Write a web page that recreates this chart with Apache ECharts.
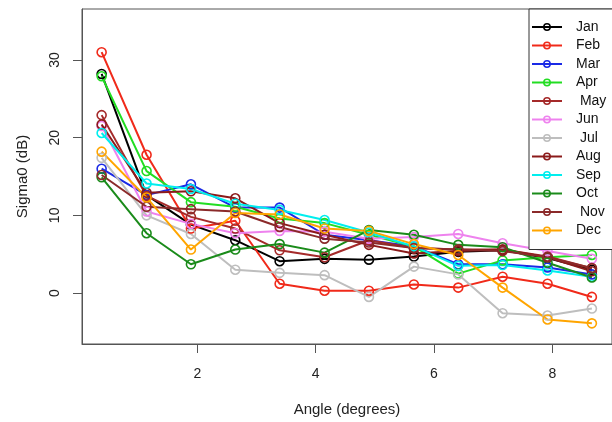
<!DOCTYPE html>
<html>
<head>
<meta charset="utf-8">
<script src="https://cdn.jsdelivr.net/npm/echarts@6/dist/echarts.min.js"></script>
<style>
html,body{margin:0;padding:0;background:#fff;}
#chart{width:612px;height:422px;}
</style>
</head>
<body>
<div id="chart"></div>
<script>
const angles = [0.38, 1.14, 1.89, 2.64, 3.39, 4.15, 4.90, 5.66, 6.41, 7.16, 7.92, 8.67];
const months = ["Jan", "Feb", "Mar", "Apr", " May", "Jun", " Jul", "Aug", "Sep", "Oct", " Nov", "Dec"];
const colors = ["#000000", "#f02a1a", "#1a2ae6", "#22dd22", "#a52a2a", "#ee82ee", "#bebebe", "#8b1a1a", "#00eeee", "#1a8b1a", "#8b2a2a", "#ffa500"];
const jan = [28.2, 12.6, 8.8, 6.8, 4.1, 4.4, 4.3, 4.7, 5.3, 5.5, 4.5, 3.0];
const feb = [31.0, 17.8, 8.3, 9.3, 1.2, 0.3, 0.3, 1.1, 0.7, 2.1, 1.2, -0.5];
const mar = [16.0, 12.6, 14.0, 11.0, 11.0, 7.5, 6.8, 6.0, 3.7, 3.7, 3.3, 2.4];
const apr = [27.9, 15.7, 11.7, 11.1, 9.6, 9.0, 7.5, 6.0, 2.5, 4.2, 4.6, 4.9];
const may = [22.9, 12.5, 9.8, 8.3, 5.5, 4.6, 6.8, 5.8, 5.6, 5.6, 4.7, 3.2];
const jun = [21.5, 10.5, 8.9, 7.7, 8.0, 7.9, 7.0, 7.2, 7.6, 6.4, 5.4, 4.4];
const jul = [17.4, 10.0, 7.6, 3.0, 2.6, 2.3, -0.5, 3.4, 2.4, -2.6, -2.9, -2.0];
const aug = [21.7, 12.9, 13.1, 12.2, 9.0, 7.5, 6.2, 5.1, 5.4, 5.6, 4.6, 2.8];
const sep = [20.6, 14.1, 13.4, 11.5, 10.7, 9.4, 7.8, 6.0, 3.5, 3.6, 2.9, 2.1];
const oct = [14.9, 7.7, 3.7, 5.6, 6.3, 5.2, 8.1, 7.5, 6.2, 5.9, 3.9, 2.0];
const nov = [15.2, 11.1, 10.8, 10.5, 8.5, 7.0, 6.5, 5.8, 5.6, 5.4, 4.6, 3.2];
const dec = [18.2, 12.3, 5.6, 10.3, 10.1, 8.3, 8.0, 6.3, 4.9, 0.7, -3.4, -3.9];
const seriesValues = [jan, feb, mar, apr, may, jun, jul, aug, sep, oct, nov, dec];
const xTicks = [2, 4, 6, 8];
const yTicks = [0, 10, 20, 30];

const font = "'Liberation Sans', Arial, Helvetica, sans-serif";
const axisColor = "#555";

const chart = echarts.init(document.getElementById('chart'), null, {renderer: 'canvas'});
const series = seriesValues.map((vals, i) => ({
  name: months[i],
  type: 'line',
  data: vals.map((v, j) => [angles[j], v]),
  symbol: 'circle',
  symbolSize: 9,
  showSymbol: true,
  animation: false,
  lineStyle: {color: colors[i], width: 2},
  itemStyle: {color: 'rgba(255,255,255,0)', borderColor: colors[i], borderWidth: 1.6},
  emphasis: {disabled: true}
}));

chart.setOption({
  animation: false,
  backgroundColor: '#fff',
  grid: {left: 82, top: 9, right: -3, bottom: 75, show: true, borderColor: axisColor, borderWidth: 1, containLabel: false},
  xAxis: {
    type: 'value', min: 0.048, max: 9.01,
    name: 'Angle (degrees)', nameLocation: 'middle', nameGap: 58,
    nameTextStyle: {fontFamily: font, fontSize: 15, color: '#222'},
    axisLine: {show: true, onZero: false, lineStyle: {color: axisColor, width: 1}},
    axisTick: {show: true, length: 9, inside: false, customValues: xTicks, lineStyle: {color: axisColor}},
    axisLabel: {customValues: xTicks, margin: 23, fontFamily: font, fontSize: 14, color: '#222'},
    splitLine: {show: false}
  },
  yAxis: {
    type: 'value', min: -6.56, max: 36.56,
    name: 'Sigma0 (dB)', nameLocation: 'middle', nameGap: 52,
    nameTextStyle: {fontFamily: font, fontSize: 15, color: '#222'},
    axisLine: {show: true, onZero: false, lineStyle: {color: axisColor, width: 1}},
    axisTick: {show: true, length: 9, inside: false, customValues: yTicks, lineStyle: {color: axisColor}},
    axisLabel: {customValues: yTicks, rotate: 90, margin: 20, fontFamily: font, fontSize: 14, color: '#222'},
    splitLine: {show: false}
  },
  legend: {
    orient: 'vertical', left: 529, top: 9,
    padding: [11, 20, 12, 2],
    itemWidth: 30, itemHeight: 8, itemGap: 4.5,
    backgroundColor: '#fff', borderColor: '#333', borderWidth: 1, borderRadius: 0,
    textStyle: {fontFamily: font, fontSize: 14, lineHeight: 14, color: '#111', padding: [0, 0, 0, 9]},
    data: months.map((m, i) => ({name: m, itemStyle: {color: 'rgba(255,255,255,0)', borderColor: colors[i], borderWidth: 1.5}}))
  },
  series: series
});
</script>
</body>
</html>
